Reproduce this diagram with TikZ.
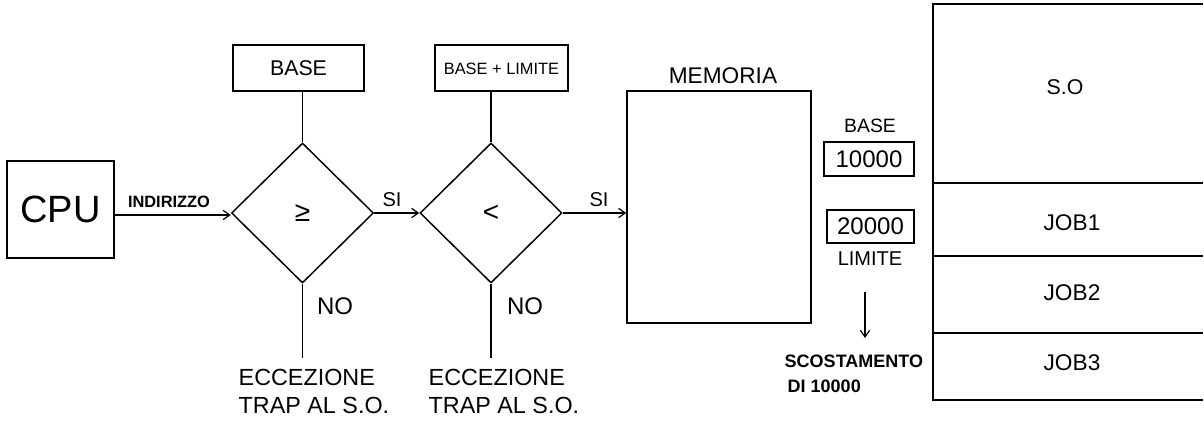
\documentclass[tikz,border=0pt]{standalone}
\usepackage{fontspec}
\setmainfont{Liberation Sans}
\usetikzlibrary{shapes.geometric,arrows.meta}
\newcommand{\fs}[1]{\fontsize{#1}{#1}\selectfont}
\begin{document}
\begin{tikzpicture}[x=0.75pt,y=-0.75pt,
  line width=1.1pt,
  box/.style={draw,rectangle,inner sep=0pt},
  dia/.style={draw,diamond,inner sep=0pt,minimum width=106.5pt,minimum height=105pt,font=\fs{21}},
  lbl/.style={inner sep=0pt},
  arr/.style={-{Straight Barb[length=5pt,width=7pt,line width=0.9pt]}},
]
\useasboundingbox (0,0) rectangle (1204,421);
% CPU
\node[box,minimum width=80.25pt,minimum height=72.75pt,font=\fs{28.5}] (cpu) at (60.5,209.5) {CPU};
% diamonds
\node[dia] (d1) at (302.5,213) {≥};
\node[dia] (d2) at (491,213) {<};
% top boxes
\node[box,minimum width=98.25pt,minimum height=34.5pt,font=\fs{16}] (base) at (298.5,68) {BASE};
\node[box,minimum width=99.75pt,minimum height=34.5pt] (bl) at (501.5,68) {};
\node[lbl,font=\fs{12.3}] (bltxt) at (501.5,69) {BASE + LIMITE};
% memoria
\node[box,minimum width=138pt,minimum height=174pt] (mem) at (719,207) {};
\node[lbl,font=\fs{17}] (memlbl) at (723,76) {MEMORIA};
% connections
\draw[arr] (cpu.east |- 0,215) coordinate (c1) -- (d1.west |- c1);
\node[lbl,font=\fs{12.3}\bfseries,anchor=south] (ind) at (169,208) {INDIRIZZO};
\draw[arr] (d1.east) -- (d2.west);
\node[lbl,font=\fs{15},anchor=south] (si1) at (392,207) {SI};
\draw[arr] (d2.east) -- (mem.west |- d2.east);
\node[lbl,font=\fs{15},anchor=south] (si2) at (599,207) {SI};
\draw (d1.north |- base.south) -- (d1.north);
\draw (d2.north |- bl.south) -- (d2.north);
% NO branches
\coordinate (e1) at (302.5,358);
\coordinate (e2) at (491,358);
\draw (d1.south) -- (e1);
\draw (d2.south) -- (e2);
\node[lbl,font=\fs{18}] (no1) at (335,306) {NO};
\node[lbl,font=\fs{18}] (no2) at (525,306) {NO};
\node[lbl,font=\fontsize{17.5}{21}\selectfont,anchor=north west,align=left] (ex1) at (238,368) {ECCEZIONE\\TRAP AL S.O.};
\node[lbl,font=\fontsize{17.5}{21}\selectfont,anchor=north west,align=left] (ex2) at (428,368) {ECCEZIONE\\TRAP AL S.O.};
% base / limite registers
\node[lbl,font=\fs{14.5}] (bl2) at (870,126) {BASE};
\node[box,minimum width=67.5pt,minimum height=25.5pt,font=\fs{18}] (r1) at (869,159) {10000};
\node[box,minimum width=65.25pt,minimum height=24.75pt,font=\fs{18}] (r2) at (870.5,226.5) {20000};
\node[lbl,font=\fs{15}] (ll) at (870,259) {LIMITE};
\coordinate (a1) at (865,292);
\coordinate (a2) at (865,338);
\draw[arr,line width=0.9pt] (a1) -- (a2);
\node[lbl,font=\fs{13.5}\bfseries,anchor=west] (sc) at (784,361) {SCOSTAMENTO};
\node[lbl,font=\fs{13.5}\bfseries,anchor=west] (di) at (787,386) {DI 10000};
% memory map
\draw (1203,4) -- (933,4) -- (933,400) -- (1203,400);
\draw (933,183) -- (1203,183);
\draw (933,256) -- (1203,256);
\draw (933,333) -- (1203,333);
\node[lbl,font=\fs{16}] (so) at (1065,87) {S.O};
\node[lbl,font=\fs{17}] (j1) at (1072,223) {JOB1};
\node[lbl,font=\fs{17}] (j2) at (1072,293) {JOB2};
\node[lbl,font=\fs{17}] (j3) at (1072,363) {JOB3};
\end{tikzpicture}
\end{document}
